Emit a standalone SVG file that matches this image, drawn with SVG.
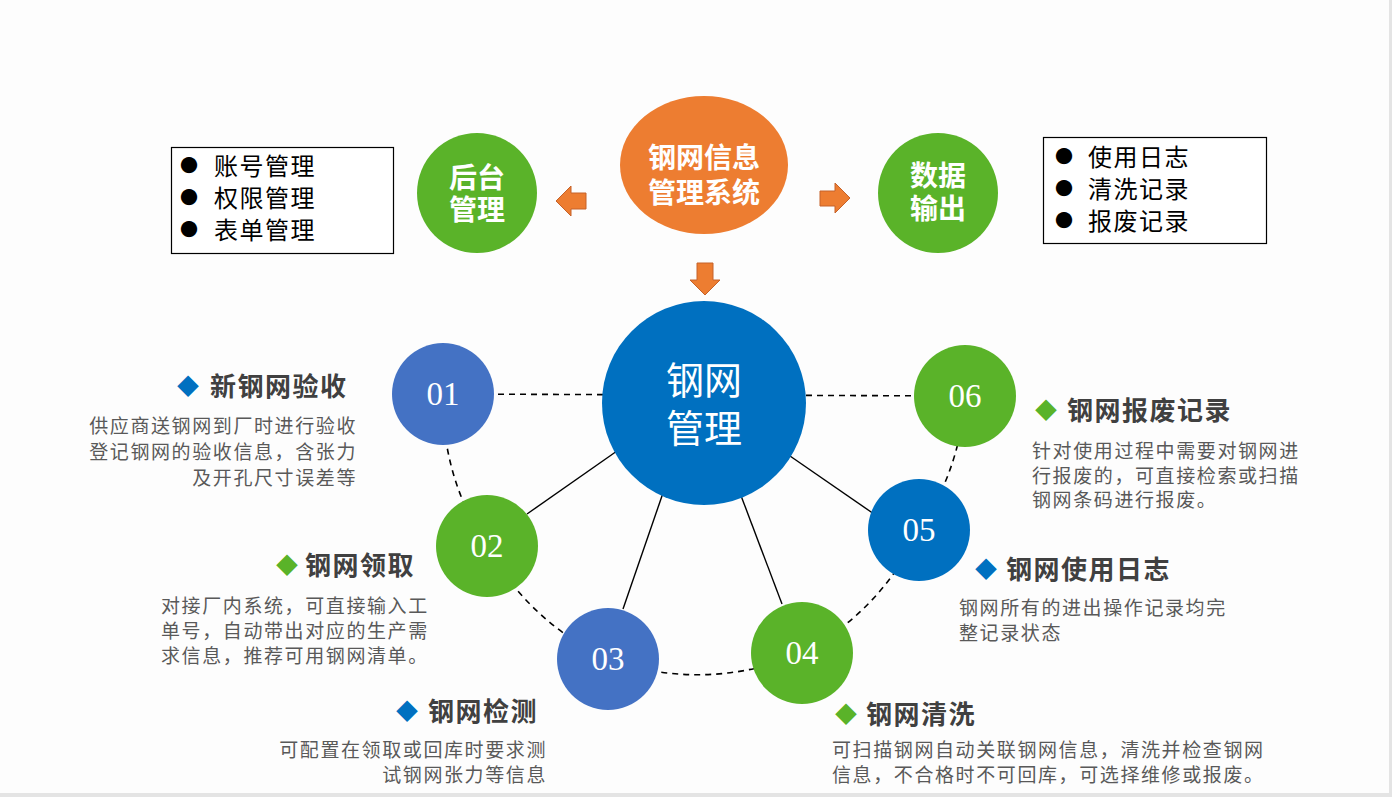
<svg xmlns="http://www.w3.org/2000/svg" width="1392" height="797" viewBox="0 0 1392 797">
<style>
.cjk{font-family:"Noto Sans CJK SC","Noto Sans",sans-serif}
.title{font-family:"Noto Sans CJK SC",sans-serif;font-size:26px;font-weight:bold;fill:#404040;letter-spacing:1.5px}
.desc{font-family:"Noto Sans CJK SC",sans-serif;font-size:19px;fill:#595959;letter-spacing:1.6px}
.num{font-family:"Liberation Serif",serif;font-size:33px;fill:#fff}
.box{font-family:"Noto Sans CJK SC",sans-serif;font-size:24px;fill:#000;letter-spacing:1.5px}
.wb{font-family:"Noto Sans CJK SC",sans-serif;font-size:28px;font-weight:bold;fill:#fff}
.dash{fill:none;stroke:#000;stroke-width:1.6;stroke-dasharray:6 5}
.solid{stroke:#000;stroke-width:1.4}
.arrow{fill:#ED7D31;stroke:#C5622A;stroke-width:1}
</style>
<rect x="0" y="0" width="1392" height="797" fill="#e4e4e4"/>
<rect x="0" y="0" width="1389" height="793" fill="#fdfdfd"/>

<g id="connectors">
<path class="dash" d="M443 394 L965 396"/>
<path class="dash" d="M443 394 A262 262 0 0 0 487 546"/>
<path class="dash" d="M487 546 A262 262 0 0 0 608 659"/>
<path class="dash" d="M608 659 A262 262 0 0 0 802 653"/>
<path class="dash" d="M802 653 A262 262 0 0 0 919 530"/>
<path class="dash" d="M919 530 A262 262 0 0 0 965 396"/>
<line class="solid" x1="527" y1="514" x2="617" y2="451"/>
<line class="solid" x1="623" y1="609" x2="663" y2="493"/>
<line class="solid" x1="782" y1="604" x2="740" y2="493"/>
<line class="solid" x1="874" y1="514" x2="790" y2="456"/>
<polygon class="arrow" points="556,201 571,186 571,193 586,193 586,209 571,209 571,216"/>
<polygon class="arrow" points="850,198 835,183 835,191 820,191 820,206 835,206 835,213"/>
<polygon class="arrow" points="705,295 690,280 697,280 697,263 713,263 713,280 720,280"/>
</g>

<g id="system">
<ellipse cx="704" cy="165" rx="84" ry="69" fill="#ED7D31"/>
<text class="wb" text-anchor="middle" dominant-baseline="central"><tspan x="704" y="156">钢网信息</tspan><tspan x="704" y="191">管理系统</tspan></text>
</g>

<g id="backend">
<circle cx="477" cy="193" r="60" fill="#5AB329"/>
<text class="wb" text-anchor="middle" dominant-baseline="central"><tspan x="477" y="176">后台</tspan><tspan x="477" y="208">管理</tspan></text>
</g>

<g id="output">
<circle cx="938" cy="193" r="60" fill="#5AB329"/>
<text class="wb" text-anchor="middle" dominant-baseline="central"><tspan x="938" y="174">数据</tspan><tspan x="938" y="207">输出</tspan></text>
</g>

<g id="backend-list">
<rect x="171.5" y="147.5" width="222" height="106" fill="#fff" stroke="#000" stroke-width="1.2"/>
<text class="box" y="164" dominant-baseline="central"><tspan x="180" font-size="18">●</tspan><tspan x="214">账号管理</tspan></text>
<text class="box" y="196" dominant-baseline="central"><tspan x="180" font-size="18">●</tspan><tspan x="214">权限管理</tspan></text>
<text class="box" y="228" dominant-baseline="central"><tspan x="180" font-size="18">●</tspan><tspan x="214">表单管理</tspan></text>
</g>

<g id="output-list">
<rect x="1043.5" y="137.5" width="223" height="106" fill="#fff" stroke="#000" stroke-width="1.2"/>
<text class="box" y="155" dominant-baseline="central"><tspan x="1055" font-size="18">●</tspan><tspan x="1088">使用日志</tspan></text>
<text class="box" y="187" dominant-baseline="central"><tspan x="1055" font-size="18">●</tspan><tspan x="1088">清洗记录</tspan></text>
<text class="box" y="219" dominant-baseline="central"><tspan x="1055" font-size="18">●</tspan><tspan x="1088">报废记录</tspan></text>
</g>

<g id="center">
<circle cx="704" cy="403" r="102" fill="#0070C0"/>
<text text-anchor="middle" dominant-baseline="central" class="cjk" font-size="38" fill="#fff"><tspan x="704" y="377">钢网</tspan><tspan x="704" y="425">管理</tspan></text>
</g>

<g id="n01">
<circle cx="443" cy="394" r="51" fill="#4472C4"/>
<text class="num" x="443" y="394" text-anchor="middle" dominant-baseline="central">01</text>
<text class="title" y="384" dominant-baseline="central"><tspan x="177" fill="#0070C0" font-size="22">◆</tspan><tspan x="210">新钢网验收</tspan></text>
<text class="desc" text-anchor="end" dominant-baseline="central"><tspan x="357" y="424">供应商送钢网到厂时进行验收</tspan><tspan x="357" y="450">登记钢网的验收信息，含张力</tspan><tspan x="357" y="476">及开孔尺寸误差等</tspan></text>
</g>

<g id="n02">
<circle cx="487" cy="546" r="51" fill="#5AB329"/>
<text class="num" x="487" y="546" text-anchor="middle" dominant-baseline="central">02</text>
<text class="title" y="563" dominant-baseline="central"><tspan x="276" fill="#5AB329" font-size="22">◆</tspan><tspan x="305">钢网领取</tspan></text>
<text class="desc" dominant-baseline="central"><tspan x="161" y="604">对接厂内系统，可直接输入工</tspan><tspan x="161" y="629">单号，自动带出对应的生产需</tspan><tspan x="161" y="654">求信息，推荐可用钢网清单。</tspan></text>
</g>

<g id="n03">
<circle cx="608" cy="659" r="51" fill="#4472C4"/>
<text class="num" x="608" y="659" text-anchor="middle" dominant-baseline="central">03</text>
<text class="title" y="709" dominant-baseline="central"><tspan x="396" fill="#0070C0" font-size="22">◆</tspan><tspan x="428">钢网检测</tspan></text>
<text class="desc" text-anchor="end" dominant-baseline="central"><tspan x="547" y="748">可配置在领取或回库时要求测</tspan><tspan x="547" y="773">试钢网张力等信息</tspan></text>
</g>

<g id="n04">
<circle cx="802" cy="653" r="51" fill="#5AB329"/>
<text class="num" x="802" y="653" text-anchor="middle" dominant-baseline="central">04</text>
<text class="title" y="712" dominant-baseline="central"><tspan x="835" fill="#5AB329" font-size="22">◆</tspan><tspan x="866">钢网清洗</tspan></text>
<text class="desc" dominant-baseline="central"><tspan x="832" y="748">可扫描钢网自动关联钢网信息，清洗并检查钢网</tspan><tspan x="832" y="773">信息，不合格时不可回库，可选择维修或报废。</tspan></text>
</g>

<g id="n05">
<circle cx="919" cy="530" r="51" fill="#0070C0"/>
<text class="num" x="919" y="530" text-anchor="middle" dominant-baseline="central">05</text>
<text class="title" y="567" dominant-baseline="central"><tspan x="975" fill="#0070C0" font-size="22">◆</tspan><tspan x="1006">钢网使用日志</tspan></text>
<text class="desc" dominant-baseline="central"><tspan x="959" y="606">钢网所有的进出操作记录均完</tspan><tspan x="959" y="631">整记录状态</tspan></text>
</g>

<g id="n06">
<circle cx="965" cy="396" r="51" fill="#5AB329"/>
<text class="num" x="965" y="396" text-anchor="middle" dominant-baseline="central">06</text>
<text class="title" y="408" dominant-baseline="central"><tspan x="1035" fill="#5AB329" font-size="22">◆</tspan><tspan x="1067">钢网报废记录</tspan></text>
<text class="desc" dominant-baseline="central"><tspan x="1032" y="449">针对使用过程中需要对钢网进</tspan><tspan x="1032" y="474">行报废的，可直接检索或扫描</tspan><tspan x="1032" y="498">钢网条码进行报废。</tspan></text>
</g>
</svg>
